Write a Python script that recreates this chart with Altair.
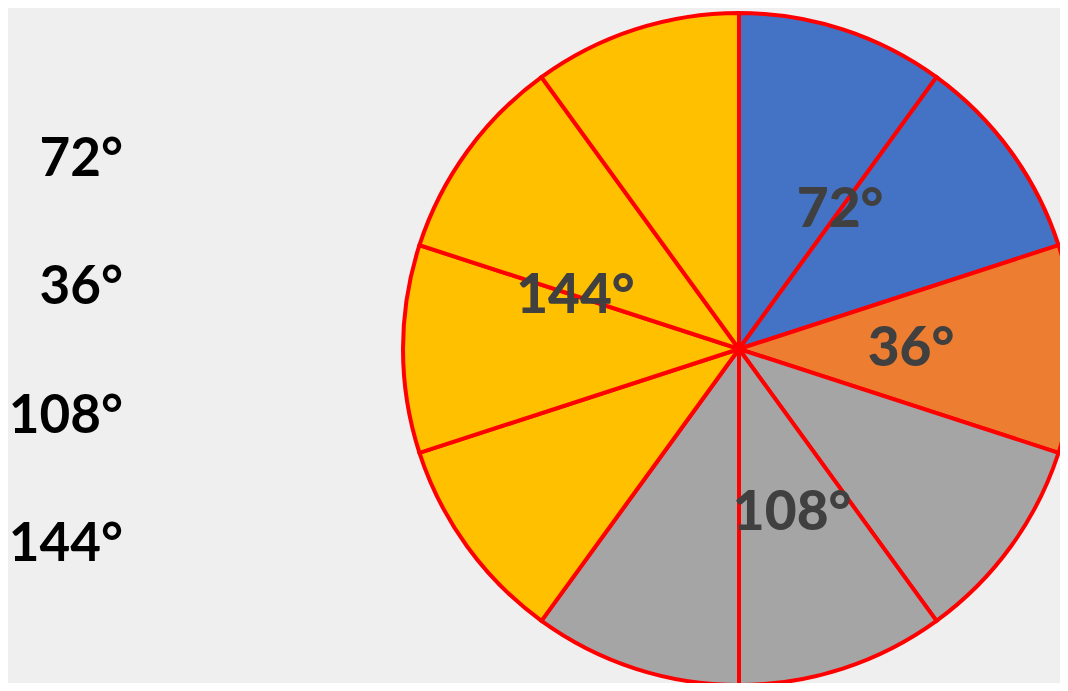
import altair as alt
import pandas as pd

# slices of the pie (each 36 degrees), clockwise from 12 o'clock
slice_groups = ["A", "A", "B", "C", "C", "C", "D", "D", "D", "D"]
slice_sizes = [36, 36, 36, 36, 36, 36, 36, 36, 36, 36]

groups = ["A", "B", "C", "D"]
group_colors = ["#4472C4", "#ED7D31", "#A5A5A5", "#FFC000"]
group_degrees = [72, 36, 108, 144]
group_labels = ["72°", "36°", "108°", "144°"]

list_labels = ["72°", "36°", "108°", "144°"]

slices = pd.DataFrame({
    "idx": list(range(len(slice_groups))),
    "group": slice_groups,
    "size": slice_sizes,
})
labels = pd.DataFrame({
    "idx": list(range(len(groups))),
    "group": groups,
    "deg": group_degrees,
    "label": group_labels,
})
side = pd.DataFrame({"label": list_labels})

CX, CY, R = 731, 341, 336

pie = alt.Chart(slices).mark_arc(
    outerRadius=R, stroke="#FF0000", strokeWidth=4
).encode(
    theta=alt.Theta("size:Q", stack=True),
    order=alt.Order("idx:Q"),
    color=alt.Color("group:N", scale=alt.Scale(domain=groups, range=group_colors), legend=None),
    x=alt.value(CX),
    y=alt.value(CY),
)

pie_text = alt.Chart(labels).mark_text(
    radius=172, font="Lato", fontWeight=900, fontSize=55,
    color="#404040", baseline="middle", align="center"
).encode(
    theta=alt.Theta("deg:Q", stack=True),
    order=alt.Order("idx:Q"),
    text="label:N",
    x=alt.value(CX),
    y=alt.value(CY),
)

side_text = alt.Chart(side).mark_text(
    font="Lato", fontWeight="bold", fontSize=53, color="#000000",
    align="right", baseline="middle"
).encode(
    y=alt.Y("label:N", sort=list_labels, axis=None,
            scale=alt.Scale(type="point", padding=0, range=[152, 537])),
    text="label:N",
    x=alt.value(115),
)

chart = alt.layer(pie, pie_text, side_text).properties(
    width=1052, height=675,
    autosize=alt.AutoSizeParams(type="none"),
    padding=0,
    background="#EFEFEF",
).configure_view(stroke=None)

chart.save("out.html", embed_options={"renderer": "svg", "actions": False})
